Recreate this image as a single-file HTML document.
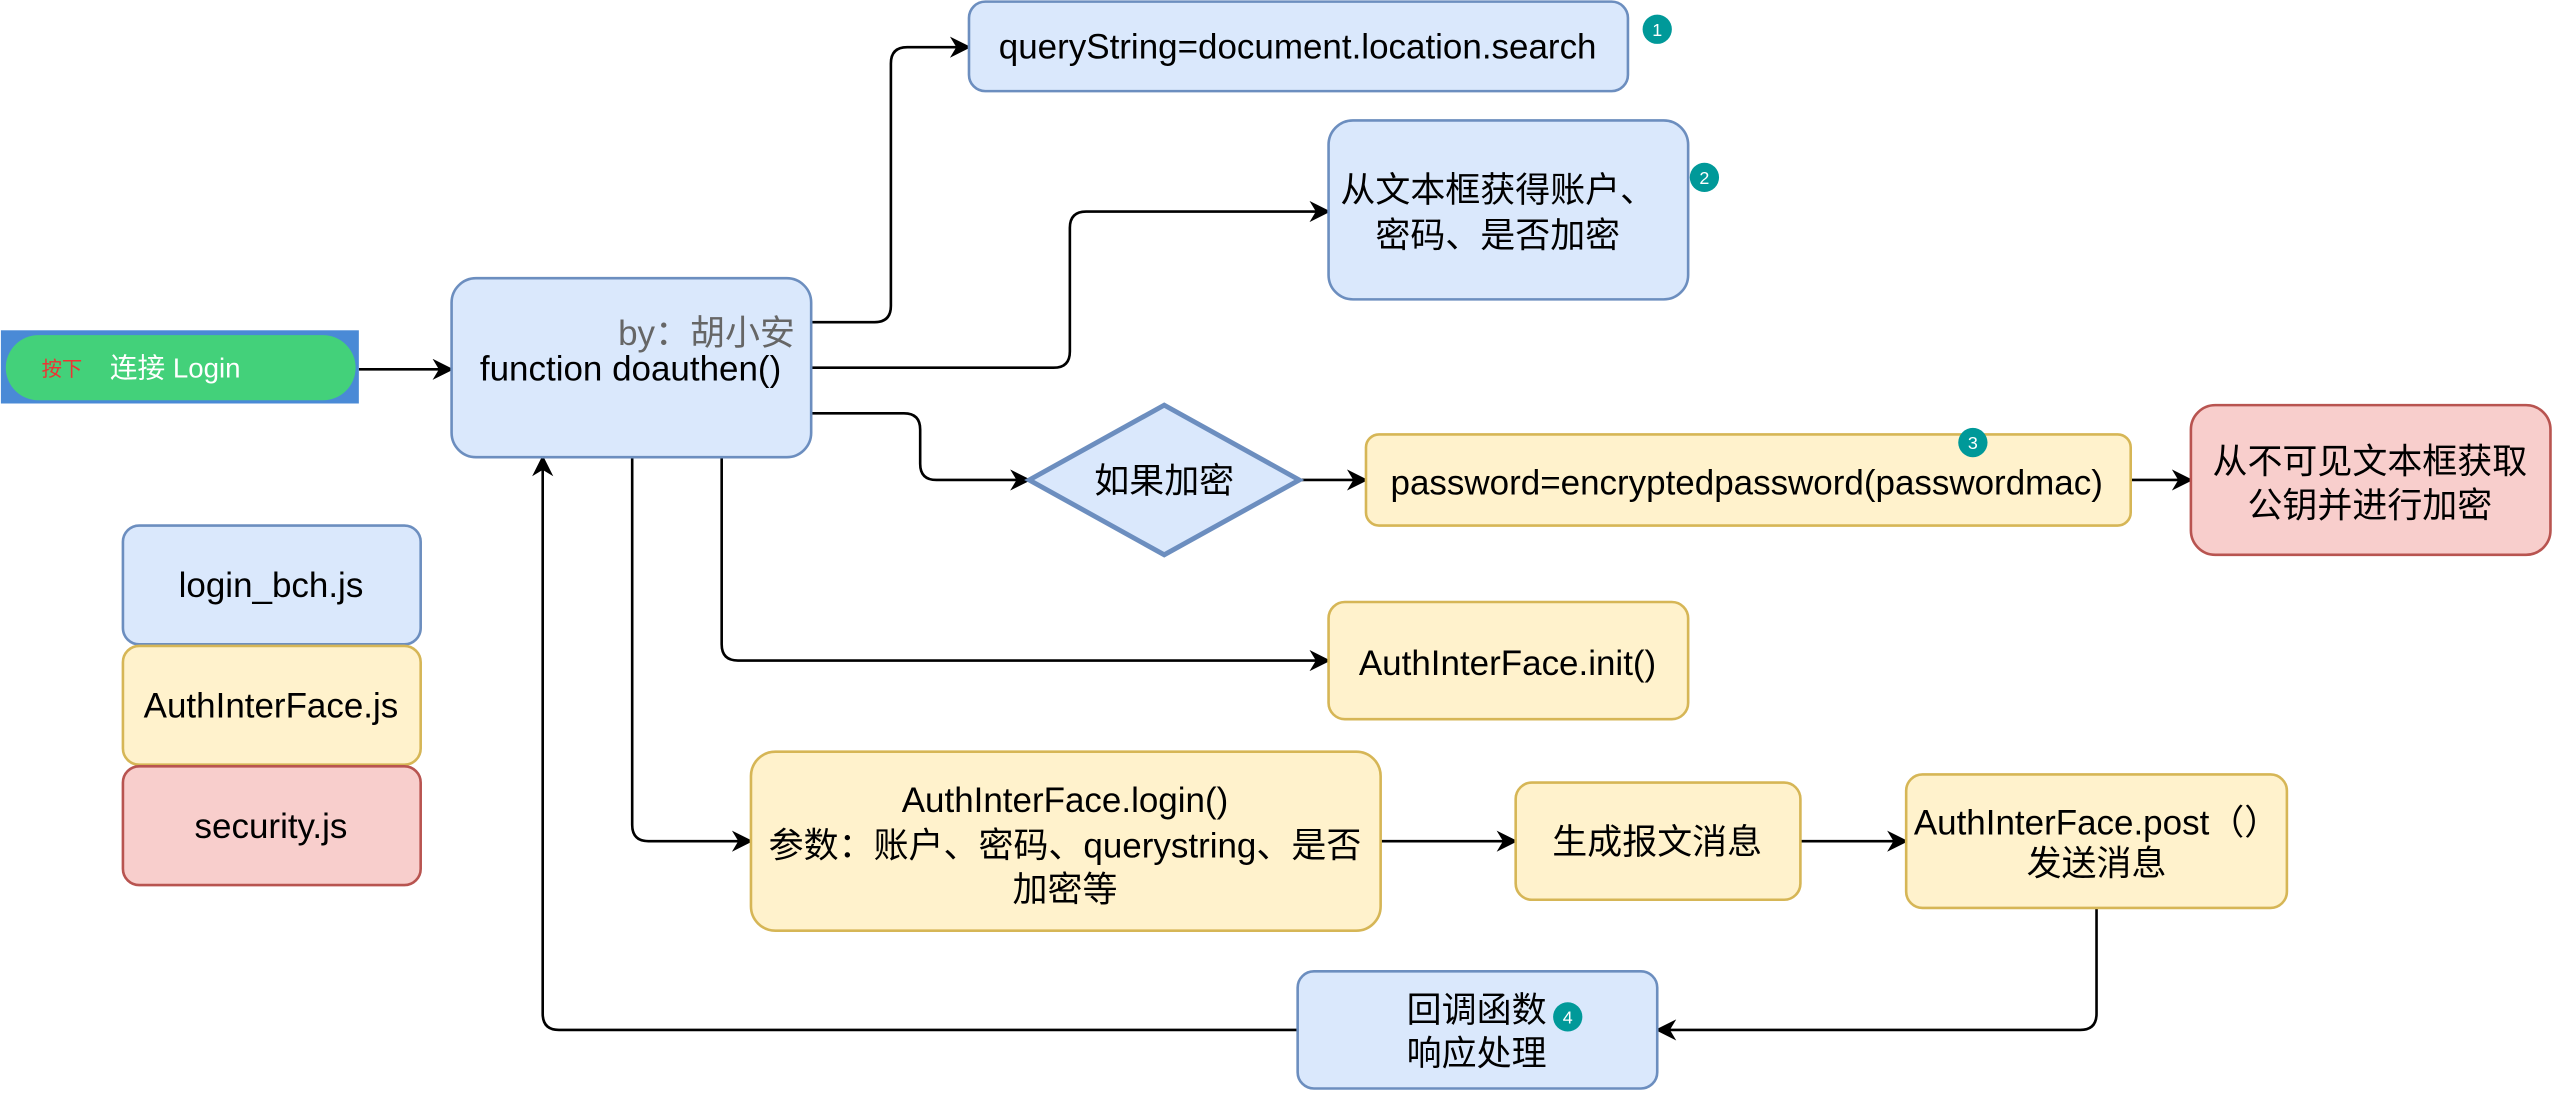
<!DOCTYPE html>
<html><head><meta charset="utf-8"><style>
html,body{margin:0;padding:0;background:#fff;}
svg{display:block;}
text{font-family:"Liberation Sans","Noto Sans CJK SC",sans-serif;}
</style></head><body>
<svg width="2553" height="1095" viewBox="0 0 1568 673" xmlns="http://www.w3.org/2000/svg">
<defs>
<marker id="a" viewBox="0 0 10 10" refX="9" refY="5" markerWidth="15" markerHeight="13" markerUnits="userSpaceOnUse" orient="auto">
<path d="M0,0 L10,5 L0,10 L3,5 Z" fill="#000"/></marker>
</defs>
<rect width="1568" height="673" fill="#fff"/>
<g fill="none" stroke="#000" stroke-width="1.6" marker-end="url(#a)">
<path d="M220 227 H277"/>
<path d="M498 198 H537 Q547 198 547 188 V39 Q547 29 557 29 H595"/>
<path d="M498 226 H647 Q657 226 657 216 V140 Q657 130 667 130 H816"/>
<path d="M498 254 H555 Q565 254 565 264 V285 Q565 295 575 295 H632"/>
<path d="M798 295 H839"/>
<path d="M1309 295 H1346"/>
<path d="M443 281 V396 Q443 406 453 406 H816"/>
<path d="M388 281 V507 Q388 517 398 517 H461"/>
<path d="M848 517 H931"/>
<path d="M1106 517 H1171"/>
<path d="M1288 558 V623 Q1288 633 1278 633 H1018"/>
<path d="M797 633 H343 Q333 633 333 623 V281"/>
</g>
<rect x="0" y="203" width="220" height="45" fill="#4a8ad6"/>
<rect x="3" y="206" width="215" height="40" rx="20" fill="#43d17a"/>
<text x="25" y="231" font-size="12.5" fill="#ee3333">按下</text>
<text x="67" y="232" font-size="17" fill="#fff">连接 Login</text>
<g stroke-width="1.6">
<rect x="277" y="171" width="221" height="110" rx="15" fill="#dae8fc" stroke="#6c8ebf"/>
<rect x="595" y="1" width="405" height="55" rx="10" fill="#dae8fc" stroke="#6c8ebf"/>
<rect x="816" y="74" width="221" height="110" rx="15" fill="#dae8fc" stroke="#6c8ebf"/>
<path d="M632 295 L715 249 L798 295 L715 341 Z" fill="#dae8fc" stroke="#6c8ebf" stroke-width="3"/>
<rect x="839" y="267" width="470" height="56" rx="8" fill="#fff2cc" stroke="#d6b656"/>
<rect x="1346" y="249" width="221" height="92" rx="15" fill="#f8cecc" stroke="#b85450"/>
<rect x="816" y="370" width="221" height="72" rx="10" fill="#fff2cc" stroke="#d6b656"/>
<rect x="461" y="462" width="387" height="110" rx="15" fill="#fff2cc" stroke="#d6b656"/>
<rect x="931" y="481" width="175" height="72" rx="10" fill="#fff2cc" stroke="#d6b656"/>
<rect x="1171" y="476" width="234" height="82" rx="10" fill="#fff2cc" stroke="#d6b656"/>
<rect x="797" y="597" width="221" height="72" rx="10" fill="#dae8fc" stroke="#6c8ebf"/>
<rect x="75" y="323" width="183" height="73" rx="10" fill="#dae8fc" stroke="#6c8ebf"/>
<rect x="75" y="397" width="183" height="73" rx="10" fill="#fff2cc" stroke="#d6b656"/>
<rect x="75" y="471" width="183" height="73" rx="10" fill="#f8cecc" stroke="#b85450"/>
</g>
<g font-size="21.5" fill="#000" text-anchor="middle">
<text x="488" y="212" text-anchor="end" fill="#666">by：胡小安</text>
<text x="387" y="234">function doauthen()</text>
<text x="797" y="36">queryString=document.location.search</text>
<text x="920" y="124">从文本框获得账户、</text>
<text x="920" y="152">密码、是否加密</text>
<text x="715" y="303">如果加密</text>
<text x="1073" y="304">password=encryptedpassword(passwordmac)</text>
<text x="1456" y="291">从不可见文本框获取</text>
<text x="1456" y="318">公钥并进行加密</text>
<text x="926" y="415">AuthInterFace.init()</text>
<text x="654" y="499">AuthInterFace.login()</text>
<text x="654" y="527">参数：账户、密码、querystring、是否</text>
<text x="654" y="554">加密等</text>
<text x="1018" y="525">生成报文消息</text>
<text x="1288" y="513">AuthInterFace.post（）</text>
<text x="1288" y="538">发送消息</text>
<text x="907" y="628">回调函数</text>
<text x="907" y="655">响应处理</text>
<text x="166" y="367">login_bch.js</text>
<text x="166" y="441">AuthInterFace.js</text>
<text x="166" y="515">security.js</text>
</g>
<g fill="#009999"><circle cx="1018" cy="18" r="9"/><circle cx="1047" cy="109" r="9"/><circle cx="1212" cy="272" r="9"/><circle cx="963" cy="625" r="9"/></g>
<g fill="#fff" font-size="11" text-anchor="middle">
<text x="1018" y="22">1</text><text x="1047" y="113">2</text><text x="1212" y="276">3</text><text x="963" y="629">4</text>
</g>
</svg>
</body></html>
